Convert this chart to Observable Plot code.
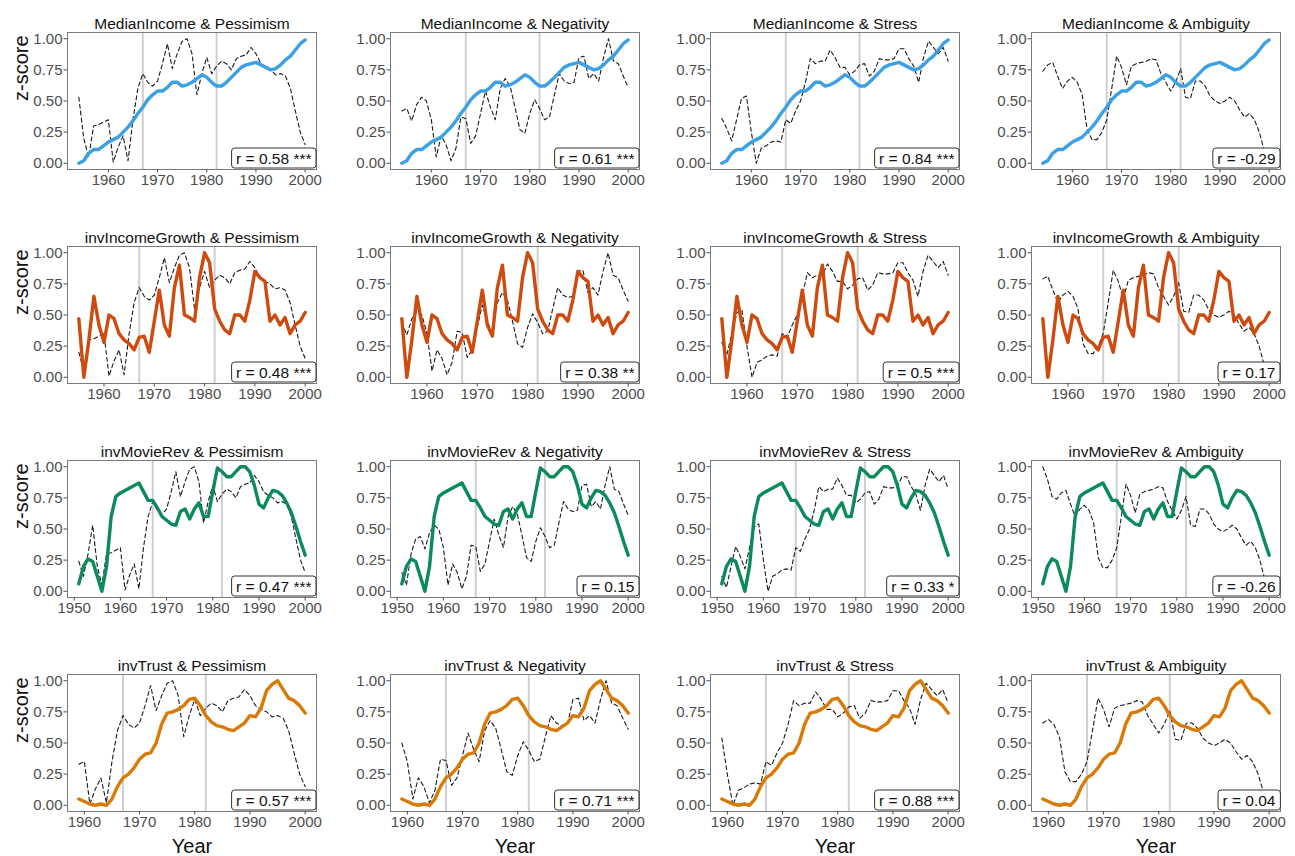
<!DOCTYPE html>
<html>
<head>
<meta charset="utf-8">
<script src="https://cdn.jsdelivr.net/npm/d3@7"></script>
<script src="https://cdn.jsdelivr.net/npm/@observablehq/plot@0.6"></script>
<style>
  body { margin: 0; background: #fff; }
  #chart { position: relative; width: 1295px; height: 856px; font-family: "Liberation Sans", Arial, Helvetica, sans-serif; }
  #chart svg { position: absolute; overflow: visible; }
</style>
</head>
<body>
<div id="chart"></div>
<script>
// Years covered by the lyric sentiment series
const lyricYears = [1951,1952,1953,1954,1955,1956,1957,1958,1959,1960,1961,1962,1963,1964,1965,1966,1967,1968,1969,1970,
  1971,1972,1973,1974,1975,1976,1977,1978,1979,1980,1981,1982,1983,1984,1985,1986,1987,1988,1989,1990,
  1991,1992,1993,1994,1995,1996,1997,1998,1999,2000];

// Lyric sentiment series (scaled 0–1)
const pessimism = [0.24,0.12,0.30,0.53,0.20,0.05,0.30,0.31,0.33,0.35,0.01,0.13,0.22,0.02,0.35,0.60,0.72,0.65,0.62,0.66,
  0.80,0.96,0.76,0.88,0.98,1.00,0.88,0.55,0.72,0.85,0.72,0.78,0.82,0.80,0.75,0.84,0.86,0.87,0.93,0.88,
  0.80,0.77,0.75,0.71,0.72,0.70,0.60,0.42,0.25,0.15];
const negativity = [0.15,0.05,0.30,0.42,0.44,0.34,0.47,0.53,0.50,0.35,0.05,0.22,0.15,0.02,0.12,0.37,0.36,0.16,0.22,0.40,
  0.58,0.45,0.35,0.60,0.68,0.62,0.45,0.27,0.24,0.40,0.51,0.44,0.35,0.37,0.55,0.72,0.66,0.64,0.65,0.85,
  0.86,0.68,0.72,0.66,0.85,1.00,0.82,0.80,0.70,0.61];
const stress = [0.12,0.03,0.20,0.36,0.28,0.18,0.35,0.52,0.54,0.25,0.00,0.12,0.14,0.17,0.18,0.17,0.35,0.32,0.42,0.50,
  0.65,0.84,0.80,0.82,0.82,0.91,0.85,0.77,0.77,0.71,0.74,0.79,0.80,0.70,0.74,0.84,0.83,0.83,0.84,0.92,
  0.92,0.84,0.78,0.65,0.85,0.98,0.93,0.88,0.93,0.82];
const ambiguity = [1.00,0.90,0.76,0.74,0.79,0.81,0.70,0.60,0.66,0.69,0.65,0.55,0.27,0.19,0.19,0.25,0.35,0.60,0.86,0.77,
  0.63,0.78,0.80,0.81,0.82,0.84,0.83,0.72,0.65,0.58,0.65,0.76,0.53,0.52,0.66,0.66,0.62,0.54,0.50,0.48,
  0.50,0.53,0.50,0.43,0.37,0.40,0.35,0.25,0.10,0.00];

// Economic / social indicators (scaled 0–1)
const incomeYears = [1954,1955,1956,1957,1958,1959,1960,1961,1962,1963,1964,1965,1966,1967,1968,1969,1970,1971,1972,1973,
  1974,1975,1976,1977,1978,1979,1980,1981,1982,1983,1984,1985,1986,1987,1988,1989,1990,1991,1992,1993,
  1994,1995,1996,1997,1998,1999,2000];
const medianIncome = [0.00,0.02,0.08,0.11,0.11,0.14,0.17,0.19,0.21,0.25,0.29,0.34,0.40,0.45,0.51,0.55,0.58,0.58,0.61,0.65,
  0.65,0.62,0.63,0.65,0.68,0.71,0.69,0.65,0.62,0.62,0.65,0.69,0.73,0.77,0.79,0.80,0.81,0.79,0.77,0.75,
  0.76,0.79,0.83,0.86,0.91,0.96,0.99];

const growthYears = [1955,1956,1957,1958,1959,1960,1961,1962,1963,1964,1965,1966,1967,1968,1969,1970,1971,1972,1973,1974,
  1975,1976,1977,1978,1979,1980,1981,1982,1983,1984,1985,1986,1987,1988,1989,1990,1991,1992,1993,1994,
  1995,1996,1997,1998,1999,2000];
const invIncomeGrowth = [0.47,0.00,0.30,0.65,0.42,0.28,0.50,0.47,0.35,0.30,0.27,0.22,0.32,0.33,0.20,0.45,0.70,0.42,0.33,0.72,
  0.90,0.50,0.48,0.45,0.80,1.00,0.92,0.55,0.45,0.38,0.35,0.50,0.50,0.45,0.62,0.85,0.80,0.77,0.45,0.50,
  0.42,0.48,0.35,0.42,0.45,0.52];

const movieYears = lyricYears;
const invMovieRev = [0.06,0.20,0.26,0.24,0.12,0.00,0.20,0.60,0.76,0.79,0.81,0.83,0.85,0.87,0.80,0.73,0.73,0.67,0.60,0.57,
  0.54,0.53,0.64,0.66,0.58,0.66,0.71,0.60,0.60,0.80,0.99,0.96,0.92,0.92,0.96,1.00,1.00,0.96,0.85,0.70,
  0.67,0.75,0.81,0.80,0.77,0.71,0.63,0.52,0.40,0.29];

const trustYears = [1959,1960,1961,1962,1963,1964,1965,1966,1967,1968,1969,1970,1971,1972,1973,1974,1975,1976,1977,1978,
  1979,1980,1981,1982,1983,1984,1985,1986,1987,1988,1989,1990,1991,1992,1993,1994,1995,1996,1997,1998,
  1999,2000];
const invTrust = [0.05,0.03,0.01,0.00,0.01,0.00,0.05,0.15,0.22,0.25,0.30,0.37,0.41,0.42,0.50,0.65,0.74,0.75,0.77,0.80,
  0.85,0.86,0.80,0.72,0.67,0.64,0.63,0.61,0.60,0.63,0.66,0.72,0.71,0.78,0.92,0.97,1.00,0.93,0.86,0.84,
  0.80,0.74];

// Correlation labels, one row per indicator, one column per sentiment
const rLabels = [
  ["r = 0.58 ***", "r = 0.61 ***", "r = 0.84 ***", "r = -0.29"],
  ["r = 0.48 ***", "r = 0.38 **", "r = 0.5 ***", "r = 0.17"],
  ["r = 0.47 ***", "r = 0.15", "r = 0.33 *", "r = -0.26"],
  ["r = 0.57 ***", "r = 0.71 ***", "r = 0.88 ***", "r = 0.04"]
];

// Period boundaries
const breakYears = [1967, 1982];

const indicators = [
  {name: "MedianIncome", years: incomeYears, values: medianIncome, color: "#3ca1e4", ticks: [1960, 1970, 1980, 1990, 2000]},
  {name: "invIncomeGrowth", years: growthYears, values: invIncomeGrowth, color: "#cf4a0e", ticks: [1960, 1970, 1980, 1990, 2000]},
  {name: "invMovieRev", years: movieYears, values: invMovieRev, color: "#0b8a5a", ticks: [1950, 1960, 1970, 1980, 1990, 2000]},
  {name: "invTrust", years: trustYears, values: invTrust, color: "#da7a06", ticks: [1960, 1970, 1980, 1990, 2000]}
];
const sentiments = [
  {name: "Pessimism", values: pessimism},
  {name: "Negativity", values: negativity},
  {name: "Stress", values: stress},
  {name: "Ambiguity", values: ambiguity}
];

// Panel geometry
const frameLeft = [66.5, 389.5, 709.5, 1031];
const frameTop = [32, 246, 460, 674];
const frameW = 249, frameH = 137;
const mL = 60, mR = 11, mT = 30;

const FONT = '"Liberation Sans", Arial, Helvetica, sans-serif';
const chart = document.getElementById("chart");

indicators.forEach((ind, r) => {
  sentiments.forEach((sen, c) => {
    const start = ind.years[0], end = 2000;
    const pad = (end - start) * 0.05;
    const solid = ind.years.map((y, i) => ({year: y, value: ind.values[i]}));
    const dashed = lyricYears.map((y, i) => ({year: y, value: sen.values[i]})).filter(d => d.year >= start);
    const mB = r === 3 ? 46 : 40;
    const marks = [
      Plot.ruleX(breakYears, {stroke: "#cfcfcf", strokeWidth: 2}),
      Plot.line(dashed, {x: "year", y: "value", stroke: "#1a1a1a", strokeWidth: 1.1, strokeDasharray: "4,3"}),
      Plot.line(solid, {x: "year", y: "value", stroke: ind.color, strokeWidth: 3.4, strokeLinejoin: "round", strokeLinecap: "round"}),
      Plot.frame({stroke: "#7a7a7a", strokeWidth: 1}),
      Plot.axisX({ticks: ind.ticks, tickFormat: "d", tickSize: 3.5, tickPadding: 1.5, fontSize: 15, color: "#4d4d4d", label: null}),
      Plot.axisY({ticks: [0, 0.25, 0.5, 0.75, 1], tickFormat: d3.format(".2f"), tickSize: 3.5, tickPadding: 1.5, fontSize: 15, color: "#4d4d4d", label: null}),
      Plot.text([`${ind.name} & ${sen.name}`], {frameAnchor: "top", dy: -15, fontSize: 15.5, fill: "#111"}),
      Plot.text([rLabels[r][c]], {frameAnchor: "bottom-right", textAnchor: "end", lineAnchor: "bottom", dx: -5, dy: -6, fontSize: 15.5, fill: "#111"})
    ];
    if (c === 0) marks.push(Plot.text(["z-score"], {frameAnchor: "left", dx: -46, rotate: -90, fontSize: 20, fill: "#111"}));
    if (r === 3) marks.push(Plot.text(["Year"], {frameAnchor: "bottom", dy: 35, lineAnchor: "middle", fontSize: 20, fill: "#111"}));

    const svg = Plot.plot({
      width: mL + frameW + mR,
      height: mT + frameH + mB,
      marginLeft: mL, marginRight: mR, marginTop: mT, marginBottom: mB,
      x: {domain: [start - pad, end + pad]},
      y: {domain: [-0.05, 1.05]},
      style: {fontFamily: FONT, background: "transparent", overflow: "visible"},
      marks
    });
    svg.style.left = (frameLeft[c] - mL) + "px";
    svg.style.top = (frameTop[r] - mT) + "px";
    chart.appendChild(svg);

    // White rounded box behind the correlation label
    d3.select(svg).selectAll("text").each(function () {
      if (!this.textContent.startsWith("r = ")) return;
      const bb = this.getBBox();
      const rect = document.createElementNS("http://www.w3.org/2000/svg", "rect");
      rect.setAttribute("x", bb.x - 4.5);
      rect.setAttribute("y", bb.y - 1.5);
      rect.setAttribute("width", bb.width + 9);
      rect.setAttribute("height", bb.height + 3);
      rect.setAttribute("rx", 3);
      rect.setAttribute("fill", "#fff");
      rect.setAttribute("stroke", "#333");
      rect.setAttribute("stroke-width", 1);
      const tf = this.getAttribute("transform");
      if (tf) rect.setAttribute("transform", tf);
      this.parentNode.insertBefore(rect, this);
    });
  });
});
</script>
</body>
</html>
